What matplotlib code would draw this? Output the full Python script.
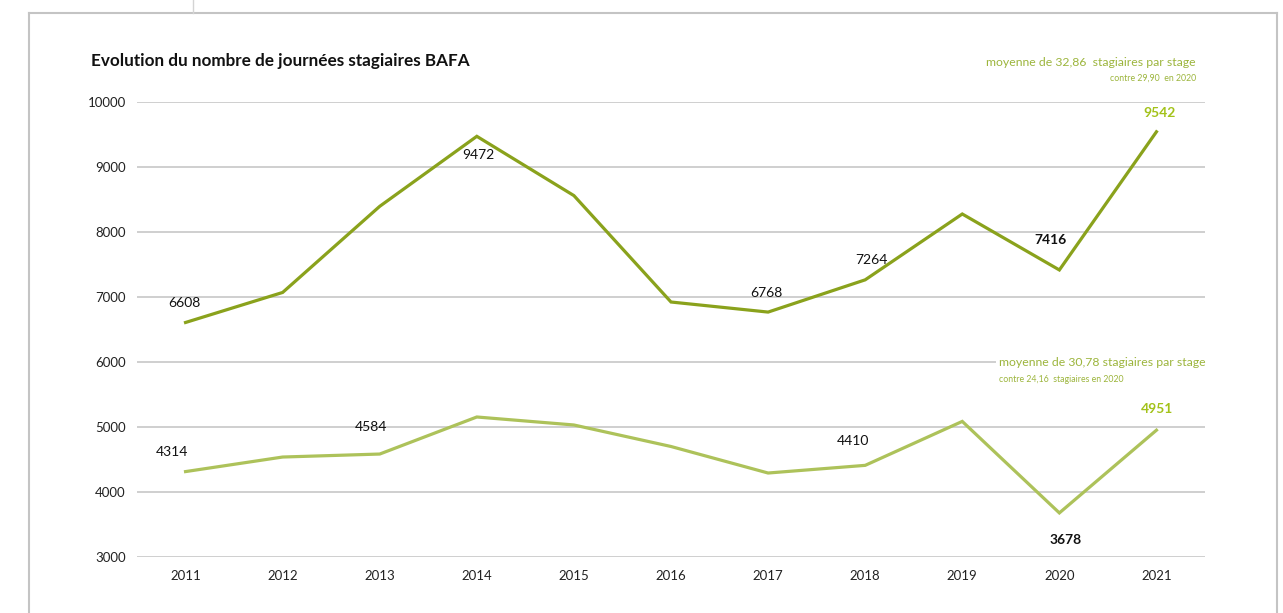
import matplotlib
matplotlib.use("Agg")
import matplotlib.pyplot as plt
from matplotlib.lines import Line2D

years = [2011, 2012, 2013, 2014, 2015, 2016, 2017, 2018, 2019, 2020, 2021]
journees_total = [6608, 7070, 8395, 9472, 8560, 6923, 6768, 7264, 8277, 7416, 9542]
journees_second = [4314, 4538, 4584, 5154, 5031, 4700, 4292, 4410, 5086, 3678, 4951]
y_ticks = [3000, 4000, 5000, 6000, 7000, 8000, 9000, 10000]

title = "Evolution du nombre de journées stagiaires BAFA"
note1_main = "moyenne de 32,86  stagiaires par stage"
note1_sub = "contre 29,90  en 2020"
note2_main = "moyenne de 30,78 stagiaires par stage"
note2_sub = "contre 24,16  stagiaires en 2020"

DARK = "#8aa21c"
LIGHT = "#adc25a"
LABEL_GREEN = "#a3c21a"
NOTE_GREEN = "#9cb53c"
GRID = "#cfcfcf"

plt.rcParams['font.family'] = ['Lato', 'DejaVu Sans']

W, H = 1283, 613
fig = plt.figure(figsize=(W / 100, H / 100), dpi=100)
fig.patch.set_facecolor("white")

def fx(px):
    return px / W
def fy(py):
    return 1 - py / H

# outer frame decoration
fig.add_artist(Line2D([fx(29), fx(1277)], [fy(13), fy(13)], color="#c4c4c4", lw=1.5))
fig.add_artist(Line2D([fx(29), fx(29)], [fy(13), fy(613)], color="#c4c4c4", lw=1.5))
fig.add_artist(Line2D([fx(1277), fx(1277)], [fy(13), fy(613)], color="#c4c4c4", lw=1.5))
fig.add_artist(Line2D([fx(193), fx(193)], [fy(0), fy(13)], color="#d4d4d4", lw=1.0))

ax = fig.add_axes([137 / W, 1 - 557 / H, (1205 - 137) / W, (557 - 102) / H])
ax.set_xlim(2010.5, 2021.5)
ax.set_ylim(3000, 10000)
ax.set_yticks(y_ticks)
ax.set_xticks(years)
ax.set_xticklabels([str(y) for y in years])
for s in ax.spines.values():
    s.set_visible(False)
ax.tick_params(axis='both', length=0, labelsize=9.5, colors="#222222")
ax.tick_params(axis='y', pad=8)
ax.tick_params(axis='x', pad=9.5)
for yv in y_ticks:
    ax.axhline(yv, color=GRID, lw=1.4, zorder=1)
ax.set_facecolor("none")

ax.plot(years, journees_total, color=DARK, lw=2.3, zorder=3, solid_joinstyle='miter')
ax.plot(years, journees_second, color=LIGHT, lw=2.3, zorder=3, solid_joinstyle='miter')

def lab(x, y, txt, dx, dy, color="#111111", weight="normal"):
    ax.annotate(txt, (x, y), xytext=(dx, dy), textcoords="offset pixels",
                ha="center", va="center", fontsize=10, color=color,
                fontweight=weight, zorder=5)

i = years.index
lab(2011, journees_total[i(2011)], str(journees_total[i(2011)]), -1, 19)
lab(2014, journees_total[i(2014)], str(journees_total[i(2014)]), 2, -19)
lab(2017, journees_total[i(2017)], str(journees_total[i(2017)]), -2, 19)
lab(2018, journees_total[i(2018)], str(journees_total[i(2018)]), 6, 20)
lab(2020, journees_total[i(2020)], str(journees_total[i(2020)]), -9, 30, weight="bold")
lab(2021, journees_total[i(2021)], str(journees_total[i(2021)]), 3, 19, color=LABEL_GREEN, weight="bold")
lab(2011, journees_second[i(2011)], str(journees_second[i(2011)]), -14, 20)
lab(2013, journees_second[i(2013)], str(journees_second[i(2013)]), -9, 27)
lab(2018, journees_second[i(2018)], str(journees_second[i(2018)]), -12, 24)
lab(2020, journees_second[i(2020)], str(journees_second[i(2020)]), 6, -27, weight="bold")
lab(2021, journees_second[i(2021)], str(journees_second[i(2021)]), 1, 21, color=LABEL_GREEN, weight="bold")

fig.text(fx(91), fy(61), title, fontsize=12.3, fontweight="bold", color="#111111",
         ha="left", va="center")

fig.text(fx(1196), fy(62), note1_main, fontsize=8.8, color=NOTE_GREEN, ha="right", va="center")
fig.text(fx(1196), fy(78), note1_sub, fontsize=6.3, color=NOTE_GREEN, ha="right", va="center")

fig.text(fx(999), fy(363), note2_main, fontsize=8.8, color=NOTE_GREEN, ha="left", va="center",
         bbox=dict(facecolor="white", edgecolor="none", pad=2.5))
fig.text(fx(999), fy(379), note2_sub, fontsize=6.3, color=NOTE_GREEN, ha="left", va="center")

fig.savefig("out.png", dpi=100, facecolor="white")
